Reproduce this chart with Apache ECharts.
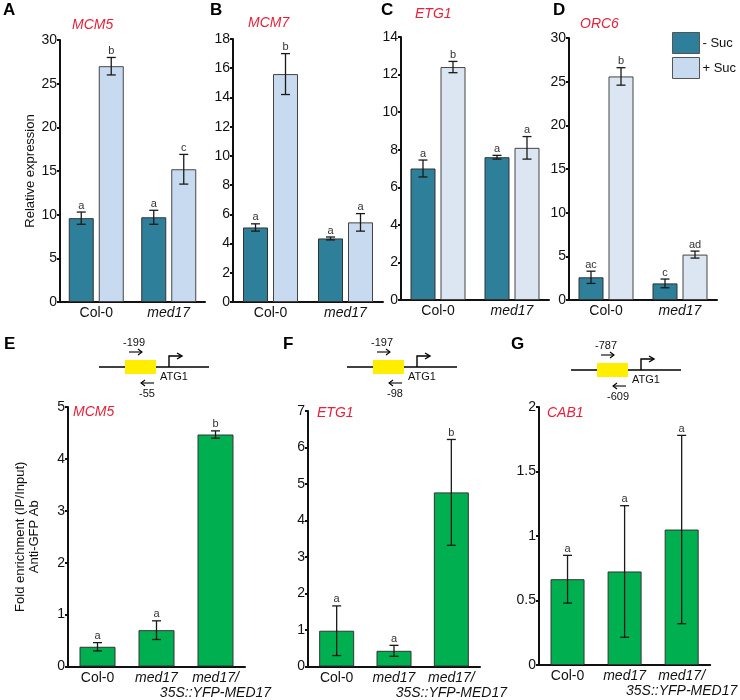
<!DOCTYPE html>
<html><head><meta charset="utf-8">
<script src="https://cdn.jsdelivr.net/npm/echarts@6/dist/echarts.min.js"></script>
<style>html,body{margin:0;padding:0;background:#fff}#c{width:740px;height:700px}</style>
</head><body><div id="c"></div>
<script>
// ---------- DATA ----------
const groupsTop = ['Col-0', 'med17'];
const groupsChip = ['Col-0', 'med17', 'med17/\n35S::YFP-MED17'];
const seriesNames = ['- Suc', '+ Suc'];

// A  MCM5
const mcm5Minus = [9.6, 9.7];
const mcm5MinusErr = [0.7, 0.8];
const mcm5MinusSig = ['a', 'a'];
const mcm5Plus = [27.0, 15.2];
const mcm5PlusErr = [1.0, 1.7];
const mcm5PlusSig = ['b', 'c'];
// B  MCM7
const mcm7Minus = [5.1, 4.35];
const mcm7MinusErr = [0.25, 0.1];
const mcm7MinusSig = ['a', 'a'];
const mcm7Plus = [15.6, 5.45];
const mcm7PlusErr = [1.4, 0.6];
const mcm7PlusSig = ['b', 'a'];
// C  ETG1
const etg1Minus = [7.0, 7.6];
const etg1MinusErr = [0.45, 0.1];
const etg1MinusSig = ['a', 'a'];
const etg1Plus = [12.4, 8.1];
const etg1PlusErr = [0.3, 0.6];
const etg1PlusSig = ['b', 'a'];
// D  ORC6
const orc6Minus = [2.6, 1.9];
const orc6MinusErr = [0.7, 0.5];
const orc6MinusSig = ['ac', 'c'];
const orc6Plus = [25.6, 5.2];
const orc6PlusErr = [1.0, 0.4];
const orc6PlusSig = ['b', 'ad'];

// E  ChIP MCM5
const chipMcm5 = [0.38, 0.70, 4.47];
const chipMcm5Err = [0.08, 0.18, 0.07];
const chipMcm5Sig = ['a', 'a', 'b'];
// F  ChIP ETG1
const chipEtg1 = [0.98, 0.43, 4.77];
const chipEtg1Err = [0.68, 0.15, 1.45];
const chipEtg1Sig = ['a', 'a', 'b'];
// G  ChIP CAB1
const chipCab1 = [0.665, 0.725, 1.05];
const chipCab1Err = [0.185, 0.51, 0.73];
const chipCab1Sig = ['a', 'a', 'a'];

// tick settings
const yMaxTop = [30, 18, 14, 30];
const yIntTop = [5, 2, 2, 5];
const yMaxChip = [5, 7, 2];
const yIntChip = [1, 1, 0.5];

const geneTitles = ['MCM5', 'MCM7', 'ETG1', 'ORC6', 'MCM5', 'ETG1', 'CAB1'];
const primerFwd = ['-199', '-197', '-787'];
const primerRev = ['-55', '-98', '-609'];
const panelLetters = ['A', 'B', 'C', 'D', 'E', 'F', 'G'];

// ---------- STYLE / LAYOUT ----------
const FONT = 'Liberation Sans, Arial, Helvetica, sans-serif';
const dark = '#2e7f99';
const lightAB = '#c8daf0';
const lightCD = '#dce6f3';
const green = '#00b050';
const red = '#e8203c';

const grids = [
  {left: 60, top: 40, width: 145, height: 262},
  {left: 233, top: 39, width: 150, height: 263},
  {left: 401, top: 37, width: 148, height: 263},
  {left: 569, top: 38, width: 148, height: 262},
  {left: 68, top: 407, width: 177, height: 262},
  {left: 308, top: 411, width: 172, height: 257},
  {left: 539, top: 407, width: 173, height: 258}
];

const topSets = [
  [mcm5Minus, mcm5MinusErr, mcm5MinusSig, mcm5Plus, mcm5PlusErr, mcm5PlusSig, lightAB],
  [mcm7Minus, mcm7MinusErr, mcm7MinusSig, mcm7Plus, mcm7PlusErr, mcm7PlusSig, lightAB],
  [etg1Minus, etg1MinusErr, etg1MinusSig, etg1Plus, etg1PlusErr, etg1PlusSig, lightCD],
  [orc6Minus, orc6MinusErr, orc6MinusSig, orc6Plus, orc6PlusErr, orc6PlusSig, lightCD]
];
const chipSets = [
  [chipMcm5, chipMcm5Err, chipMcm5Sig],
  [chipEtg1, chipEtg1Err, chipEtg1Sig],
  [chipCab1, chipCab1Err, chipCab1Sig]
];

const BW = 25, GAP = 5;

function errSeries(ai, vals, errs, sig, offset, capW) {
  return {
    type: 'custom', xAxisIndex: ai, yAxisIndex: ai, z: 10, silent: true,
    data: vals.map((v, i) => [i, v, errs[i]]),
    encode: {x: 0, y: 1},
    renderItem: function (params, api) {
      const i = api.value(0), v = api.value(1), e = api.value(2);
      const t = api.coord([i, v + e]), b = api.coord([i, v - e]);
      const x = t[0] + offset;
      const st = {stroke: '#1a1a1a', lineWidth: 1.3};
      return {type: 'group', children: [
        {type: 'line', shape: {x1: x, y1: t[1], x2: x, y2: b[1]}, style: st},
        {type: 'line', shape: {x1: x - capW / 2, y1: t[1], x2: x + capW / 2, y2: t[1]}, style: st},
        {type: 'line', shape: {x1: x - capW / 2, y1: b[1], x2: x + capW / 2, y2: b[1]}, style: st},
        {type: 'text', style: {text: sig[params.dataIndex], x: x, y: t[1] - 1, align: 'center', verticalAlign: 'bottom',
          fontSize: 11, fontFamily: FONT, fill: '#333'}}
      ]};
    }
  };
}

const xAxes = [], yAxes = [], series = [];
const labelFmt = v => v === 'Col-0' ? '{n|' + v + '}' : v.split('\n').map(s => '{i|' + s + '}').join('\n');
const rich = {n: {fontSize: 14, fontFamily: FONT, color: '#111', lineHeight: 15},
              i: {fontSize: 14, fontFamily: FONT, color: '#111', fontStyle: 'italic', lineHeight: 15}};

function addAxes(ai, cats, max, interval, yName, nameGap) {
  xAxes.push({type: 'category', gridIndex: ai, data: cats,
    axisLine: {lineStyle: {color: '#111', width: 2}}, axisTick: {show: false},
    axisLabel: {interval: 0, margin: 4, formatter: labelFmt, rich: rich}});
  const y = {type: 'value', gridIndex: ai, min: 0, max: max, interval: interval,
    axisLine: {show: true, lineStyle: {color: '#111', width: 2}},
    axisTick: {show: true, length: 3, lineStyle: {color: '#111', width: 2}},
    splitLine: {show: false},
    axisLabel: {fontSize: 14, fontFamily: FONT, color: '#111', margin: 3}};
  if (yName) {
    Object.assign(y, {name: yName, nameLocation: 'middle', nameGap: nameGap, nameRotate: 90,
      nameTextStyle: {fontSize: 13, fontFamily: FONT, color: '#111', lineHeight: 14}});
  }
  yAxes.push(y);
}

topSets.forEach((s, k) => {
  addAxes(k, groupsTop, yMaxTop[k], yIntTop[k], k === 0 ? 'Relative expression' : null, 19);
  series.push({type: 'bar', name: seriesNames[0], xAxisIndex: k, yAxisIndex: k, data: s[0],
    barWidth: BW, barGap: (GAP / BW * 100) + '%',
    itemStyle: {color: dark, borderColor: '#333', borderWidth: 1}});
  series.push({type: 'bar', name: seriesNames[1], xAxisIndex: k, yAxisIndex: k, data: s[3],
    barWidth: BW, barGap: (GAP / BW * 100) + '%',
    itemStyle: {color: s[6], borderColor: '#444', borderWidth: 1}});
  series.push(errSeries(k, s[0], s[1], s[2], -(BW + GAP) / 2, 9));
  series.push(errSeries(k, s[3], s[4], s[5], (BW + GAP) / 2, 9));
});

const chipBW = [36, 35, 34];
chipSets.forEach((s, j) => {
  const k = 4 + j;
  addAxes(k, groupsChip, yMaxChip[j], yIntChip[j], j === 0 ? 'Fold enrichment (IP/Input)\nAnti-GFP Ab' : null, 27);
  series.push({type: 'bar', name: 'chip' + j, xAxisIndex: k, yAxisIndex: k, data: s[0],
    barWidth: chipBW[j], itemStyle: {color: green, borderColor: '#333', borderWidth: 1}});
  series.push(errSeries(k, s[0], s[1], s[2], 0, 9));
});

// ---------- decorative graphics ----------
const graphic = [];
const letterPos = [[3, 2], [210, 2], [381, 2], [553, 2], [4, 336], [283, 336], [511, 336]];
panelLetters.forEach((L, i) => graphic.push({type: 'text', left: letterPos[i][0], top: letterPos[i][1],
  style: {text: L, fontSize: 17, fontWeight: 'bold', fontFamily: FONT, fill: '#000'}}));
const titlePos = [[72, 18], [248, 16], [415, 7], [580, 17], [73, 405], [317, 406], [547, 406]];
geneTitles.forEach((t, i) => graphic.push({type: 'text', left: titlePos[i][0], top: titlePos[i][1],
  style: {text: t, fontSize: 14, fontStyle: 'italic', fontFamily: FONT, fill: red}}));

const diag = [[99, 367], [347, 367], [571, 370]];
diag.forEach((p, i) => {
  const x0 = p[0], y0 = p[1];
  const ln = {stroke: '#000', lineWidth: 1.5};
  const thin = {stroke: '#000', lineWidth: 1.1};
  graphic.push({type: 'line', shape: {x1: x0, y1: y0, x2: x0 + 110, y2: y0}, style: ln});
  graphic.push({type: 'rect', shape: {x: x0 + 26, y: y0 - 7, width: 31, height: 14}, style: {fill: '#ffee00'}});
  graphic.push({type: 'polyline', shape: {points: [[x0 + 70, y0], [x0 + 70, y0 - 11], [x0 + 82, y0 - 11]]}, style: {stroke: '#000', lineWidth: 1.4, fill: null}});
  graphic.push({type: 'polyline', shape: {points: [[x0 + 78, y0 - 14], [x0 + 83, y0 - 11], [x0 + 78, y0 - 8]]}, style: {stroke: '#000', lineWidth: 1.4, fill: null}});
  graphic.push({type: 'text', left: x0 + 61, top: y0 + 4, style: {text: 'ATG1', fontSize: 11, fontFamily: FONT, fill: '#111'}});
  // forward primer
  graphic.push({type: 'text', left: x0 + 24, top: y0 - 30, style: {text: primerFwd[i], fontSize: 11, fontFamily: FONT, fill: '#111'}});
  graphic.push({type: 'polyline', shape: {points: [[x0 + 30, y0 - 15], [x0 + 43, y0 - 15]]}, style: thin});
  graphic.push({type: 'polyline', shape: {points: [[x0 + 39, y0 - 18], [x0 + 43, y0 - 15], [x0 + 39, y0 - 12]]}, style: Object.assign({fill: null}, thin)});
  // reverse primer
  graphic.push({type: 'polyline', shape: {points: [[x0 + 42, y0 + 16], [x0 + 55, y0 + 16]]}, style: thin});
  graphic.push({type: 'polyline', shape: {points: [[x0 + 46, y0 + 13], [x0 + 42, y0 + 16], [x0 + 46, y0 + 19]]}, style: Object.assign({fill: null}, thin)});
  graphic.push({type: 'text', left: x0 + (primerRev[i].length > 3 ? 36 : 40), top: y0 + 21, style: {text: primerRev[i], fontSize: 11, fontFamily: FONT, fill: '#111'}});
});

const chart = echarts.init(document.getElementById('c'), null, {renderer: 'canvas'});
chart.setOption({
  animation: false,
  backgroundColor: '#fff',
  textStyle: {fontFamily: FONT},
  grid: grids.map(g => Object.assign({containLabel: false}, g)),
  xAxis: xAxes,
  yAxis: yAxes,
  legend: {data: seriesNames.map(n => ({name: n, icon: 'rect'})), orient: 'vertical', left: 672, top: 32,
    itemWidth: 27, itemHeight: 21, itemGap: 3, padding: 0,
    itemStyle: {borderColor: '#555', borderWidth: 1},
    textStyle: {fontSize: 13, fontFamily: FONT, color: '#111', padding: [0, 0, 0, -2]}, selectedMode: false},
  series: series,
  graphic: graphic
});
</script></body></html>
